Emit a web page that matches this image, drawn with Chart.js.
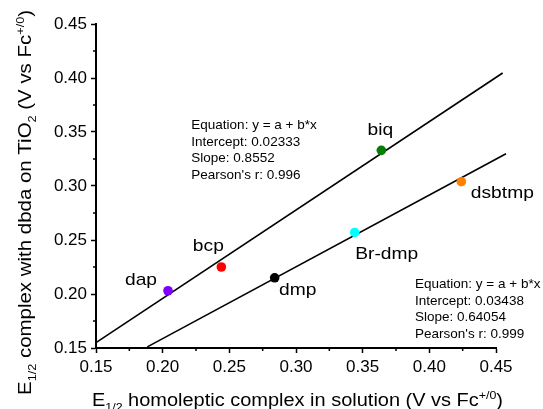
<!DOCTYPE html>
<html>
<head>
<meta charset="utf-8">
<script src="https://cdn.jsdelivr.net/npm/chart.js@4.4.1/dist/chart.umd.min.js"></script>
<style>
  html, body { margin: 0; padding: 0; background: #fff; }
</style>
</head>
<body>
<canvas id="myChart" width="543" height="409"></canvas>
<script>
// data
const ligands = ['dap', 'bcp', 'dmp', 'Br-dmp', 'biq', 'dsbtmp'];
const solutionE = [0.204, 0.244, 0.284, 0.344, 0.364, 0.424];   // x
const surfaceE = [0.203, 0.225, 0.215, 0.257, 0.333, 0.304];    // y
const pointColors = ['#7f00ff', '#ff0000', '#000000', '#00ffff', '#007f00', '#ff8000'];

// the two fit lines (end points as drawn)
const fitAx = [0.15, 0.455];
const fitAy = [0.155, 0.4046];
const fitBx = [0.1885, 0.4575];
const fitBy = [0.151, 0.3298];

const fitAText = ['Equation: y = a + b*x', 'Intercept: 0.02333', 'Slope: 0.8552', "Pearson's r: 0.996"];
const fitBText = ['Equation: y = a + b*x', 'Intercept: 0.03438', 'Slope: 0.64054', "Pearson's r: 0.999"];

const axisMin = 0.15, axisMax = 0.45, majorStep = 0.05;
const minorTicks = [0.175, 0.225, 0.275, 0.325, 0.375, 0.425];

const family = "'Liberation Sans', Arial, sans-serif";

// label placement around each point: [dx, dy] in px (centre x, baseline)
const labelOffsets = [[-27, -6], [-13, -16], [23, 17], [32, 27], [-1, -15], [41, 16]];

function drawRich(ctx, parts, x, y, size, targetWidth) {
  let w = 0;
  parts.forEach(p => {
    ctx.font = (p[1] ? size * 0.62 : size) + 'px ' + family;
    w += ctx.measureText(p[0]).width;
  });
  const sx = targetWidth ? targetWidth / w : 1;
  ctx.save();
  ctx.translate(x, y);
  ctx.scale(sx, 1);
  ctx.textAlign = 'left';
  ctx.textBaseline = 'alphabetic';
  let cx = 0;
  parts.forEach(p => {
    const fs = p[1] ? size * 0.62 : size;
    const dy = p[1] === 'sub' ? size * 0.28 : (p[1] === 'sup' ? -size * 0.42 : 0);
    ctx.font = fs + 'px ' + family;
    ctx.fillText(p[0], cx, dy);
    cx += ctx.measureText(p[0]).width;
  });
  ctx.restore();
}

const decor = {
  id: 'decor',
  afterDraw(chart) {
    const ctx = chart.ctx;
    const xs = chart.scales.x, ys = chart.scales.y;
    const ca = chart.chartArea;
    ctx.save();
    ctx.fillStyle = '#000';
    ctx.strokeStyle = '#000';

    // minor ticks
    ctx.lineWidth = 1.5;
    ctx.beginPath();
    minorTicks.forEach(v => {
      const px = xs.getPixelForValue(v);
      ctx.moveTo(px, ca.bottom);
      ctx.lineTo(px, ca.bottom + 3);
      const py = ys.getPixelForValue(v);
      ctx.moveTo(ca.left, py);
      ctx.lineTo(ca.left - 3, py);
    });
    ctx.stroke();

    // point labels
    ctx.font = '17px ' + family;
    ctx.textAlign = 'center';
    ctx.textBaseline = 'alphabetic';
    ligands.forEach((name, i) => {
      const px = xs.getPixelForValue(solutionE[i]);
      const py = ys.getPixelForValue(surfaceE[i]);
      ctx.save();
      ctx.translate(px + labelOffsets[i][0], py + labelOffsets[i][1]);
      ctx.scale(1.13, 1);
      ctx.fillText(name, 0, 0);
      ctx.restore();
    });

    // fit results
    ctx.font = '13.5px ' + family;
    ctx.textAlign = 'left';
    ctx.textBaseline = 'middle';
    const boxA = [xs.getPixelForValue(0.2215), ys.getPixelForValue(0.3564)];
    const boxB = [xs.getPixelForValue(0.3893), ys.getPixelForValue(0.209)];
    fitAText.forEach((t, i) => ctx.fillText(t, boxA[0], boxA[1] + i * 16.7));
    fitBText.forEach((t, i) => ctx.fillText(t, boxB[0], boxB[1] + i * 16.7));

    // axis titles
    drawRich(ctx, [['E'], ['1/2', 'sub'], [' homoleptic complex in solution (V vs Fc'], ['+/0', 'sup'], [')']],
      92, 406, 17.5, 411);
    ctx.save();
    ctx.translate(31, 395);
    ctx.rotate(-Math.PI / 2);
    drawRich(ctx, [['E'], ['1/2', 'sub'], [' complex with dbda on TiO'], ['2', 'sub'], [' (V vs Fc'], ['+/0', 'sup'], [')']],
      0, 0, 17.5, 385);
    ctx.restore();
    ctx.restore();
  }
};

const axisStyle = {
  type: 'linear',
  min: axisMin,
  max: axisMax,
  grid: { drawOnChartArea: false, drawTicks: true, tickLength: 5, tickWidth: 1.5, tickColor: '#000' },
  border: { display: true, color: '#000', width: 2 },
  ticks: {
    stepSize: majorStep,
    color: '#000',
    padding: 4,
    font: { family: family, size: 17 },
    callback: v => v.toFixed(2)
  }
};

const ctx = document.getElementById('myChart').getContext('2d');
const chart = new Chart(ctx, {
  type: 'scatter',
  data: {
    datasets: [
      {
        label: 'complexes',
        data: ligands.map((n, i) => ({ x: solutionE[i], y: surfaceE[i] })),
        pointRadius: 4.8,
        pointBackgroundColor: pointColors,
        pointBorderWidth: 0,
        showLine: false
      },
      {
        label: 'fit A',
        data: fitAx.map((x, i) => ({ x: x, y: fitAy[i] })),
        showLine: true,
        clip: false,
        borderColor: '#000',
        borderWidth: 1.6,
        pointRadius: 0
      },
      {
        label: 'fit B',
        data: fitBx.map((x, i) => ({ x: x, y: fitBy[i] })),
        showLine: true,
        clip: false,
        borderColor: '#000',
        borderWidth: 1.6,
        pointRadius: 0
      }
    ]
  },
  options: {
    responsive: false,
    animation: false,
    layout: { padding: { left: 0, right: 47, top: 24, bottom: 0 } },
    plugins: {
      legend: { display: false },
      tooltip: { enabled: false }
    },
    scales: {
      x: Object.assign({}, axisStyle, {
        position: 'bottom',
        afterFit: s => { s.height = 61; }
      }),
      y: Object.assign({}, axisStyle, {
        position: 'left',
        afterFit: s => { s.width = 96; }
      })
    }
  },
  plugins: [decor]
});
</script>
</body>
</html>
